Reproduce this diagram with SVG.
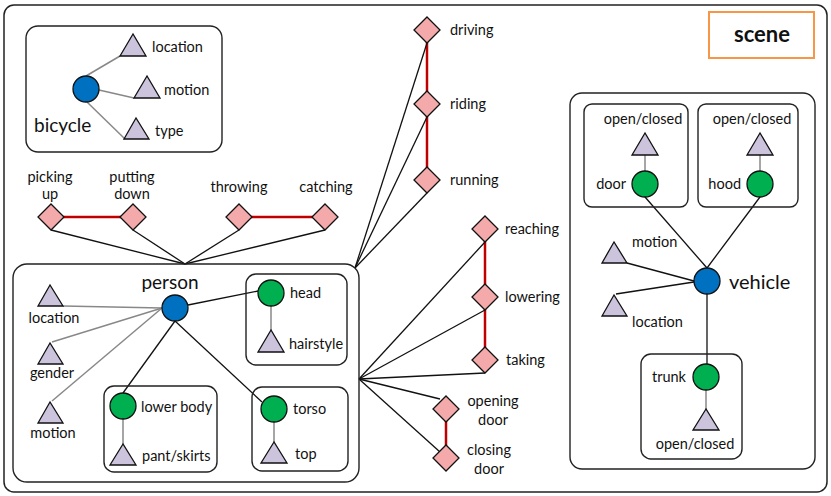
<svg xmlns="http://www.w3.org/2000/svg" width="831" height="496" viewBox="0 0 831 496">
<style>
text{font-family:Lato,"Open Sans","Liberation Sans",sans-serif;font-size:14.5px;fill:#111}
.box{fill:none;stroke:#222;stroke-width:1.4}
.ent{fill:#0070C0;stroke:#111;stroke-width:1.3}
.part{fill:#00B050;stroke:#111;stroke-width:1.3}
.attr{fill:#CCC3DC;stroke:#111;stroke-width:1.3}
.act{fill:#F4AAAA;stroke:#111;stroke-width:1.3}
.k{stroke:#111;stroke-width:1.3;fill:none}
.g{stroke:#888;stroke-width:1.5;fill:none}
.r{stroke:#C00000;stroke-width:2.5;fill:none}
.m{text-anchor:middle}
.e{text-anchor:end}
</style>
<rect x="4" y="5" width="823" height="487" rx="10" fill="#fff" stroke="#222" stroke-width="1.5"/>
<g id="scene-label"><rect x="709" y="12" width="105" height="46" fill="#fff" stroke="#F79646" stroke-width="2"/><text x="762" y="42" class="m" style="font-size:22px;font-weight:bold">scene</text></g>

<g id="connectors">
<line class="g" x1="86" y1="76" x2="120" y2="56"/>
<line class="g" x1="99" y1="90" x2="134" y2="98"/>
<line class="g" x1="87" y1="102" x2="125" y2="139"/>
<line class="r" x1="51" y1="217" x2="133" y2="217"/>
<line class="r" x1="239" y1="217" x2="325" y2="217"/>
<line class="k" x1="51" y1="230" x2="185" y2="264"/>
<line class="k" x1="133" y1="230" x2="185" y2="264"/>
<line class="k" x1="239" y1="230" x2="185" y2="264"/>
<line class="k" x1="325" y1="230" x2="185" y2="264"/>
<line class="r" x1="427" y1="30" x2="427" y2="180"/>
<line class="r" x1="485" y1="229" x2="485" y2="360"/>
<line class="r" x1="446" y1="409" x2="446" y2="458"/>
<line class="k" x1="355" y1="268" x2="427" y2="43"/>
<line class="k" x1="355" y1="268" x2="427" y2="117"/>
<line class="k" x1="355" y1="268" x2="427" y2="193"/>
<line class="k" x1="359" y1="379" x2="485" y2="242"/>
<line class="k" x1="359" y1="379" x2="485" y2="310"/>
<line class="k" x1="359" y1="379" x2="485" y2="373"/>
<line class="k" x1="359" y1="379" x2="440" y2="399"/>
<line class="k" x1="359" y1="379" x2="440" y2="452"/>
<line class="g" x1="162" y1="308" x2="63" y2="306"/>
<line class="g" x1="162" y1="308" x2="52" y2="342"/>
<line class="g" x1="162" y1="308" x2="52" y2="401"/>
<line class="k" x1="188" y1="305" x2="258" y2="291"/>
<line class="k" x1="175" y1="321" x2="123" y2="393"/>
<line class="k" x1="175" y1="321" x2="262" y2="402"/>
<line class="g" x1="271" y1="306" x2="271" y2="330"/>
<line class="g" x1="123" y1="419" x2="123" y2="444"/>
<line class="g" x1="274" y1="422" x2="274" y2="442"/>
<line class="g" x1="645" y1="171" x2="645" y2="155"/>
<line class="g" x1="760" y1="171" x2="760" y2="155"/>
<line class="k" x1="645" y1="197" x2="707" y2="268"/>
<line class="k" x1="760" y1="197" x2="707" y2="268"/>
<line class="k" x1="627" y1="263" x2="694" y2="281"/>
<line class="k" x1="616" y1="294" x2="694" y2="282"/>
<line class="k" x1="707" y1="294" x2="707" y2="364"/>
<line class="g" x1="706" y1="390" x2="706" y2="409"/>
</g>

<g id="bicycle">
<rect class="box" x="26" y="26" width="196" height="126" rx="12"/>
<circle class="ent" cx="86" cy="89" r="13"/>
<text x="34" y="132" style="font-size:19px">bicycle</text>
<polygon class="attr" points="133,34 120,56 146,56"/><text x="152" y="52">location</text>
<polygon class="attr" points="147,76 134,98 160,98"/><text x="164" y="95">motion</text>
<polygon class="attr" points="136,118 124,139 149,139"/><text x="155" y="136">type</text>
</g>

<g id="act-picking-up"><polygon class="act" points="51,204 64,217 51,230 38,217"/><text x="50" y="182" class="m">picking</text><text x="50" y="199" class="m">up</text></g>
<g id="act-putting-down"><polygon class="act" points="133,204 146,217 133,230 120,217"/><text x="132" y="182" class="m">putting</text><text x="132" y="199" class="m">down</text></g>
<g id="act-throwing"><polygon class="act" points="239,204 252,217 239,230 226,217"/><text x="239" y="192" class="m">throwing</text></g>
<g id="act-catching"><polygon class="act" points="325,204 338,217 325,230 312,217"/><text x="326" y="192" class="m">catching</text></g>
<g id="act-driving"><polygon class="act" points="427,17 440,30 427,43 414,30"/><text x="450" y="35">driving</text></g>
<g id="act-riding"><polygon class="act" points="427,91 440,104 427,117 414,104"/><text x="450" y="109">riding</text></g>
<g id="act-running"><polygon class="act" points="427,167 440,180 427,193 414,180"/><text x="450" y="185">running</text></g>
<g id="act-reaching"><polygon class="act" points="485,216 498,229 485,242 472,229"/><text x="505" y="234">reaching</text></g>
<g id="act-lowering"><polygon class="act" points="485,284 498,297 485,310 472,297"/><text x="505" y="302">lowering</text></g>
<g id="act-taking"><polygon class="act" points="485,347 498,360 485,373 472,360"/><text x="506" y="365">taking</text></g>
<g id="act-opening-door"><polygon class="act" points="446,396 459,409 446,422 433,409"/><text x="493" y="406" class="m">opening</text><text x="493" y="425" class="m">door</text></g>
<g id="act-closing-door"><polygon class="act" points="446,445 459,458 446,471 433,458"/><text x="489" y="455" class="m">closing</text><text x="489" y="474" class="m">door</text></g>

<g id="person">
<rect class="box" x="13" y="264" width="346" height="218" rx="14"/>
<circle class="ent" cx="175" cy="308" r="13"/>
<text x="170" y="289" class="m" style="font-size:19px">person</text>
<polygon class="attr" points="50,285 38,306 63,306"/><text x="54" y="323" class="m">location</text>
<polygon class="attr" points="50,343 38,364 63,364"/><text x="52" y="378" class="m">gender</text>
<polygon class="attr" points="50,402 38,423 63,423"/><text x="53" y="438" class="m">motion</text>
</g>
<g id="head">
<rect class="box" x="246" y="274" width="101" height="91" rx="10"/>
<circle class="part" cx="271" cy="293" r="13"/><text x="290" y="298">head</text>
<polygon class="attr" points="271,330 258,352 284,352"/><text x="289" y="349">hairstyle</text>
</g>
<g id="lower-body">
<rect class="box" x="104" y="386" width="113" height="86" rx="10"/>
<circle class="part" cx="123" cy="406" r="13"/><text x="141" y="412">lower body</text>
<polygon class="attr" points="123,444 110,465 136,465"/><text x="142" y="461">pant/skirts</text>
</g>
<g id="torso">
<rect class="box" x="252" y="387" width="96" height="84" rx="10"/>
<circle class="part" cx="274" cy="409" r="13"/><text x="293" y="414">torso</text>
<polygon class="attr" points="274,442 261,463 287,463"/><text x="295" y="459">top</text>
</g>

<g id="vehicle">
<rect class="box" x="570" y="93" width="245" height="376" rx="12"/>
<circle class="ent" cx="707" cy="281" r="13"/>
<text x="729" y="289" style="font-size:20px">vehicle</text>
<polygon class="attr" points="614,242 602,263 627,263"/><text x="632" y="247">motion</text>
<polygon class="attr" points="614,295 602,316 627,316"/><text x="632" y="327">location</text>
</g>
<g id="door">
<rect class="box" x="584" y="104" width="104" height="103" rx="8"/>
<polygon class="attr" points="645,133 632,155 658,155"/><text x="643" y="124" class="m">open/closed</text>
<circle class="part" cx="645" cy="184" r="13"/><text x="626" y="189" class="e">door</text>
</g>
<g id="hood">
<rect class="box" x="698" y="104" width="100" height="103" rx="8"/>
<polygon class="attr" points="760,133 747,155 773,155"/><text x="752" y="124" class="m">open/closed</text>
<circle class="part" cx="760" cy="184" r="13"/><text x="741" y="189" class="e">hood</text>
</g>
<g id="trunk">
<rect class="box" x="641" y="354" width="101" height="105" rx="10"/>
<circle class="part" cx="706" cy="377" r="13"/><text x="686" y="382" class="e">trunk</text>
<polygon class="attr" points="706,409 693,430 719,430"/><text x="695" y="449" class="m">open/closed</text>
</g>
</svg>
